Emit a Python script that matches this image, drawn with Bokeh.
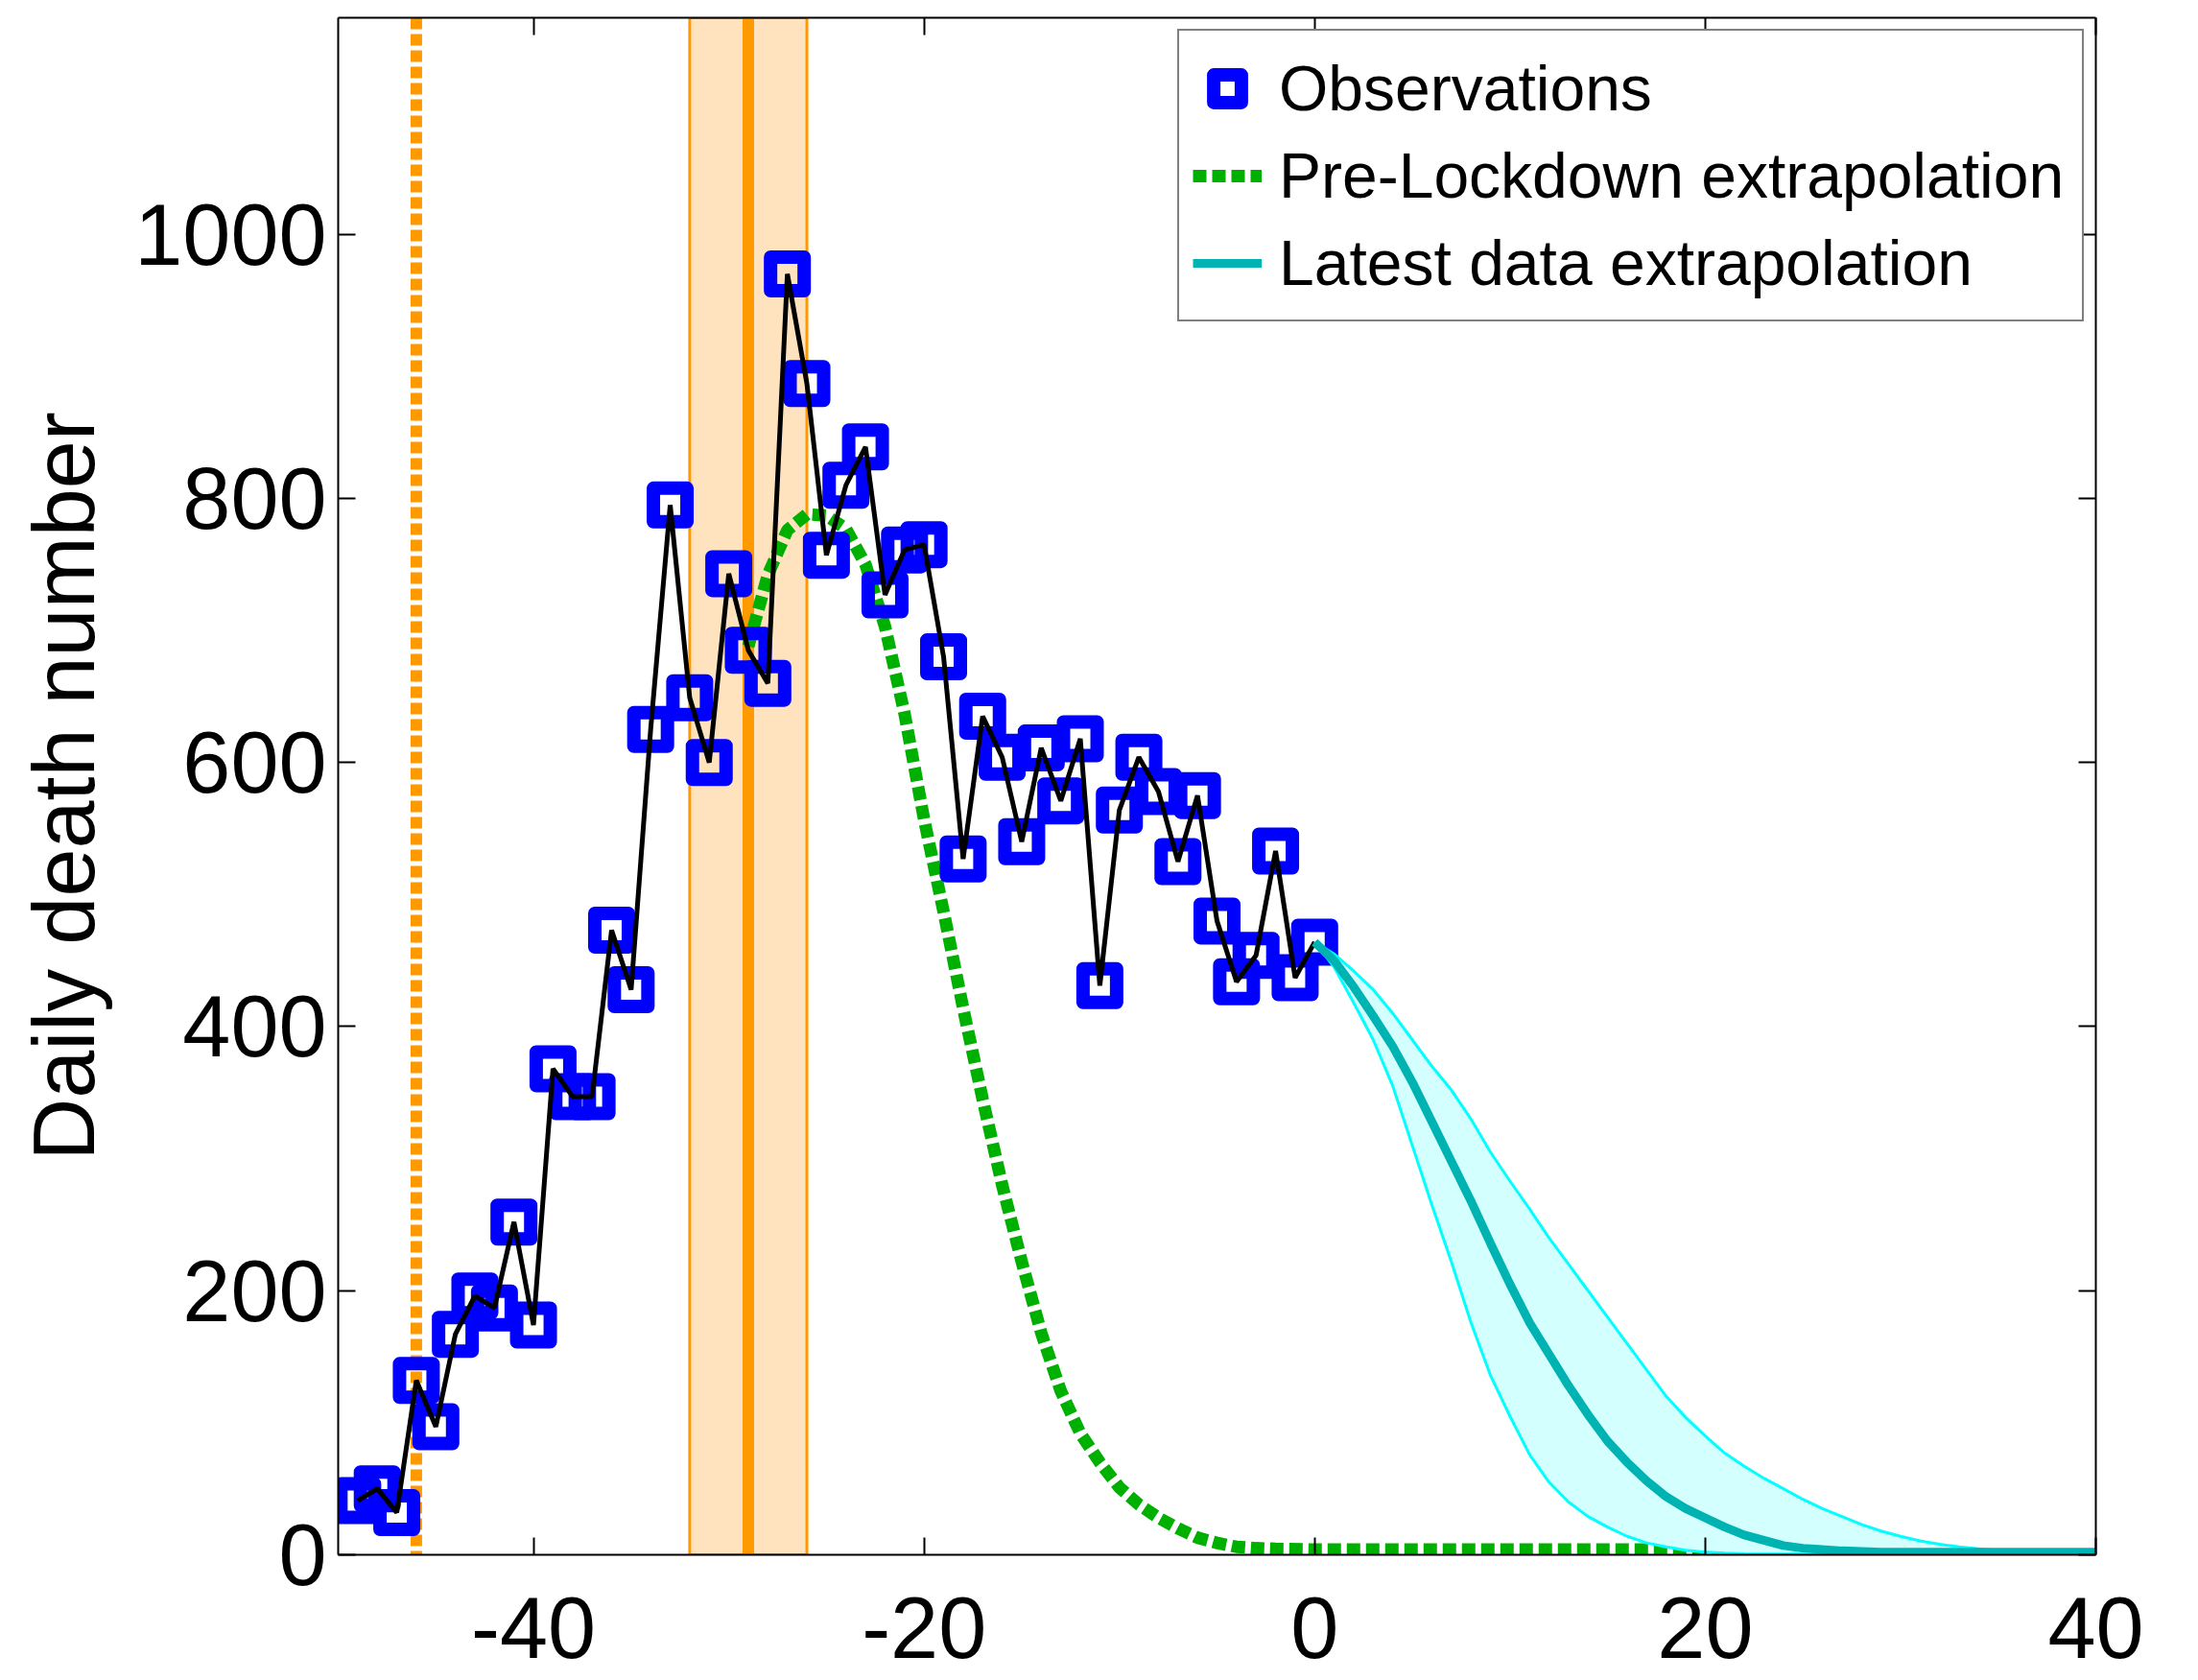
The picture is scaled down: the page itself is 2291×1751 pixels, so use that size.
from bokeh.plotting import figure
from bokeh.models import (Range1d, LinearAxis, FixedTicker, Span, BoxAnnotation,
                          Legend, LegendItem, ColumnDataSource)
from bokeh.embed import file_html
from bokeh.resources import INLINE

# ---------------- data ----------------
obs_days = [-49, -48, -47, -46, -45, -44, -43, -42, -41, -40,
            -39, -38, -37, -36, -35, -34, -33, -32, -31, -30,
            -29, -28, -27, -26, -25, -24, -23, -22, -21, -20,
            -19, -18, -17, -16, -15, -14, -13, -12, -11, -10,
            -9, -8, -7, -6, -5, -4, -3, -2, -1, 0]
obs_deaths = [41, 50, 32, 132, 97, 167, 196, 187, 252, 174,
              368, 347, 347, 473, 428, 625, 795, 649, 600, 743,
              685, 660, 970, 887, 757, 810, 839, 727, 761, 765,
              680, 527, 635, 604, 540, 611, 571, 618, 431, 564,
              604, 578, 525, 575, 480, 434, 454, 533, 437, 464]

prelock_days = [-29, -28, -27, -26, -25, -24, -23, -22, -21, -20,
                -19, -18, -17, -16, -15, -14, -13, -12, -11, -10,
                -9, -8, -7, -6, -5, -4, -3, -2, 0, 5, 10, 15, 20, 25, 31]
prelock_deaths = [688, 742, 776, 788, 787, 777, 750, 703, 637, 557,
                  487, 414, 345, 280, 222, 168, 124, 92, 70, 51,
                  38, 28, 20, 13, 9, 6, 5, 4.5, 4, 4, 4, 4, 4, 4, 4]

latest_days = [0, 1, 2, 3, 4, 5, 6, 7, 8, 9, 10, 11, 12, 13, 14, 15, 16, 17, 18, 19, 20,
               21, 22, 23, 24, 25, 26, 27, 28, 29, 30, 31, 32, 33, 34, 35, 36, 37, 38, 39, 40]
latest_mid = [464, 450, 430, 408, 385, 358, 328, 298, 268, 236, 205, 176, 152, 128, 106, 86,
              70, 56, 44, 35, 28, 21, 15, 11, 7, 5, 4, 3, 2.5, 2, 2, 2, 2, 2, 2, 2, 2, 2, 2, 2, 2]
latest_low = [464, 445, 418, 390, 355, 310, 265, 222, 176, 136, 105, 76, 55, 40, 29, 21,
              14, 9, 6, 3.5, 2, 1.2, 0.8, 0.5, 0.5, 0.5, 0.5, 0.5, 0.5, 0.5, 0.5, 0.5, 0.5,
              0.5, 0.5, 0.5, 0.5, 0.5, 0.5, 0.5, 0.5]
latest_high = [464, 455, 442, 428, 410, 390, 370, 352, 330, 305, 283, 262, 240, 220, 200, 180,
               160, 140, 120, 104, 90, 77, 67, 58, 50, 42, 35, 29, 23, 18, 14, 10.5, 8, 6,
               4.5, 3.2, 2.2, 1.5, 1, 0.7, 0.5]

first_event_day = -46
lockdown_day = -29
lockdown_start = -32
lockdown_end = -26

x_limits = (-50, 40)
y_limits = (0, 1164)
x_ticks = [-40, -20, 0, 20, 40]
x_tick_labels = ["-40", "-20", "0", "20", "40"]
y_ticks = [0, 200, 400, 600, 800, 1000]
y_tick_labels = ["0", "200", "400", "600", "800", "1000"]

legend_labels = ["Observations", "Pre-Lockdown extrapolation", "Latest data extrapolation"]
y_label = "Daily death number"

FONT = "Liberation Sans"
BLUE = "#0000FF"
GREEN = "#00B000"
ORANGE = "#FF9900"
BAND = "#FFE3BF"
CYAN = "#00FFFF"
CYAN_FILL = "#D4FFFF"
TEAL = "#00B3B3"

# ---------------- figure ----------------
p = figure(frame_width=1832, frame_height=1602,
           x_range=Range1d(*x_limits), y_range=Range1d(*y_limits),
           output_backend="svg", toolbar_location=None,
           min_border_left=352, min_border_top=18, min_border_right=90, min_border_bottom=130,
           background_fill_color="white", border_fill_color="white")
p.xgrid.visible = False
p.ygrid.visible = False
p.outline_line_color = None


def style_axis(ax, ticks, labels, show, standoff):
    ax.ticker = FixedTicker(ticks=ticks)
    ax.major_tick_in = 18
    ax.major_tick_out = 0
    ax.minor_tick_line_color = None
    ax.axis_line_color = "black"
    ax.axis_line_width = 2
    ax.major_tick_line_color = "black"
    ax.major_tick_line_width = 2
    ax.major_label_text_font = FONT
    ax.major_label_text_color = "black"
    if show:
        ax.major_label_overrides = {t: l for t, l in zip(ticks, labels)}
        ax.major_label_text_font_size = "90px"
        ax.major_label_standoff = standoff
    else:
        ax.major_label_overrides = {t: "" for t in ticks}
        ax.major_label_text_font_size = "0px"
        ax.major_label_standoff = 0


style_axis(p.xaxis[0], x_ticks, x_tick_labels, True, 44)
style_axis(p.yaxis[0], y_ticks, y_tick_labels, True, 12)
p.yaxis[0].axis_label = y_label
p.yaxis[0].axis_label_text_font = FONT
p.yaxis[0].axis_label_text_font_size = "90px"
p.yaxis[0].axis_label_text_font_style = "normal"
p.yaxis[0].axis_label_text_color = "black"
p.yaxis[0].axis_label_standoff = 20

top_ax = LinearAxis()
style_axis(top_ax, x_ticks, x_tick_labels, False, 0)
p.add_layout(top_ax, "above")
right_ax = LinearAxis()
style_axis(right_ax, y_ticks, y_tick_labels, False, 0)
p.add_layout(right_ax, "right")

# ---------------- lockdown markers ----------------
band = BoxAnnotation(left=lockdown_start, right=lockdown_end, fill_color=BAND, fill_alpha=1.0,
                     line_color=ORANGE, line_alpha=1.0, line_width=3, level="underlay")
p.add_layout(band)
p.add_layout(Span(location=lockdown_day, dimension="height", line_color=ORANGE,
                  line_width=12, level="underlay"))
p.add_layout(Span(location=first_event_day, dimension="height", line_color=ORANGE,
                  line_width=12, line_dash="12 5", level="underlay"))

# ---------------- curves ----------------
green_r = p.line(prelock_days, prelock_deaths, line_color=GREEN, line_width=13,
                 line_dash="14 6", line_cap="butt")

src = ColumnDataSource(dict(day=obs_days, deaths=obs_deaths))
obs_r = p.scatter("day", "deaths", source=src, marker="square", size=35,
                  fill_color=None, line_color=BLUE, line_width=14, line_join="round")
p.line("day", "deaths", source=src, line_color="black", line_width=5)

p.varea(x=latest_days, y1=latest_low, y2=latest_high, fill_color=CYAN_FILL, fill_alpha=1.0)
p.line(latest_days, latest_low, line_color=CYAN, line_width=3)
p.line(latest_days, latest_high, line_color=CYAN, line_width=3)
teal_r = p.line(latest_days, latest_mid, line_color=TEAL, line_width=9)

legend = Legend(items=[LegendItem(label=legend_labels[0], renderers=[obs_r]),
                       LegendItem(label=legend_labels[1], renderers=[green_r]),
                       LegendItem(label=legend_labels[2], renderers=[teal_r])],
                location="top_right", margin=12, padding=14, spacing=0,
                label_height=91, label_width=823, glyph_width=72, glyph_height=80,
                label_standoff=18,
                label_text_font=FONT, label_text_font_size="66px", label_text_color="black",
                border_line_color="black", border_line_width=2,
                background_fill_color="white", background_fill_alpha=1.0)
p.add_layout(legend)

open("out.html", "w").write(file_html(p, INLINE))
